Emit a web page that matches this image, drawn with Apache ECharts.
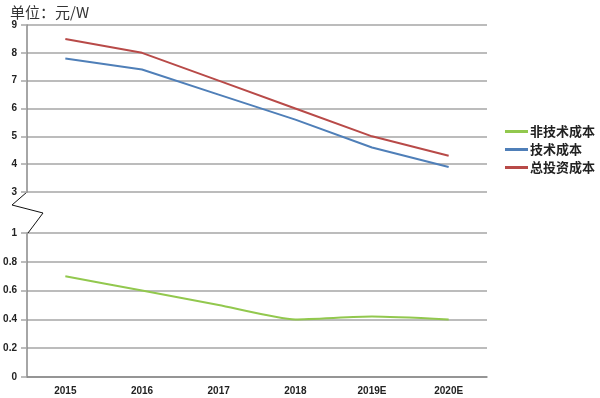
<!DOCTYPE html>
<html>
<head>
<meta charset="utf-8">
<script src="https://cdn.jsdelivr.net/npm/echarts@6/dist/echarts.min.js"></script>
<style>
    html, body { margin: 0; padding: 0; background: #fff; }
    #main { width: 600px; height: 398px; }
</style>
</head>
<body>
<div id="main"></div>
<script>
    var years = ['2015', '2016', '2017', '2018', '2019E', '2020E'];
    var nonTechCost = [0.7, 0.6, 0.5, 0.4, 0.42, 0.4];
    var techCost = [7.8, 7.4, 6.5, 5.6, 4.6, 3.9];
    var totalCost = [8.5, 8.0, 7.0, 6.0, 5.0, 4.3];

    var chart = echarts.init(document.getElementById('main'));

    var labelStyle = {
        color: '#222',
        fontSize: 10,
        fontWeight: 'bold',
        fontFamily: 'Liberation Sans'
    };
    var gridLine = { lineStyle: { color: '#a6a6a6', width: 1.5 } };

    var option = {
        animation: false,
        backgroundColor: '#fff',
        title: {
            text: '单位：元/W',
            left: 5,
            top: 0,
            textStyle: {
                fontSize: 15,
                fontWeight: 'normal',
                color: '#333',
                fontFamily: 'Noto Sans CJK SC'
            }
        },
        legend: {
            orient: 'vertical',
            left: 500,
            top: 120,
            itemWidth: 23,
            itemHeight: 3,
            itemGap: 5,
            icon: 'rect',
            textStyle: {
                fontSize: 13,
                fontWeight: 'bold',
                color: '#222',
                fontFamily: 'Noto Sans CJK SC',
                padding: [0, 0, 0, -3]
            },
            data: ['非技术成本', '技术成本', '总投资成本']
        },
        grid: [
            { left: 27, right: 113, top: 25, height: 167 },
            { left: 27, right: 113, top: 233, height: 144 }
        ],
        xAxis: [
            {
                type: 'category', gridIndex: 0, data: years,
                axisLine: { show: false }, axisTick: { show: false }, axisLabel: { show: false }
            },
            {
                type: 'category', gridIndex: 1, data: years,
                axisLine: { lineStyle: { color: '#888', width: 1.5 } },
                axisTick: { length: 5, lineStyle: { color: '#888' } },
                axisLabel: Object.assign({ margin: 9 }, labelStyle)
            }
        ],
        yAxis: [
            {
                type: 'value', gridIndex: 0, min: 3, max: 9, interval: 1,
                axisLine: { show: true, lineStyle: { color: '#888', width: 1.5 } },
                axisTick: { show: true, length: 6, lineStyle: { color: '#a6a6a6', width: 1.5 } },
                axisLabel: Object.assign({ margin: 10 }, labelStyle),
                splitLine: gridLine
            },
            {
                type: 'value', gridIndex: 1, min: 0, max: 1, interval: 0.2,
                axisLine: { show: true, lineStyle: { color: '#888', width: 1.5 } },
                axisTick: { show: true, length: 6, lineStyle: { color: '#a6a6a6', width: 1.5 } },
                axisLabel: Object.assign({ margin: 10 }, labelStyle),
                splitLine: gridLine
            }
        ],
        series: [
            {
                name: '非技术成本', type: 'line', xAxisIndex: 1, yAxisIndex: 1,
                data: nonTechCost, symbol: 'none', smooth: 0.2,
                itemStyle: { color: '#92c84e' },
                lineStyle: { color: '#92c84e', width: 2 }
            },
            {
                name: '技术成本', type: 'line', xAxisIndex: 0, yAxisIndex: 0,
                data: techCost, symbol: 'none',
                itemStyle: { color: '#4f7fb8' },
                lineStyle: { color: '#4f7fb8', width: 2 }
            },
            {
                name: '总投资成本', type: 'line', xAxisIndex: 0, yAxisIndex: 0,
                data: totalCost, symbol: 'none',
                itemStyle: { color: '#b84a48' },
                lineStyle: { color: '#b84a48', width: 2 }
            }
        ]
    };
    chart.setOption(option);

    // 断轴符号，位置由坐标轴换算
    var yTop = chart.convertToPixel({ yAxisIndex: 0 }, 3);
    var yBottom = chart.convertToPixel({ yAxisIndex: 1 }, 1);
    var x0 = 27;
    chart.setOption({
        graphic: [{
            type: 'polyline',
            shape: {
                points: [
                    [x0, yTop],
                    [x0 - 15, yTop + 13],
                    [x0 + 16, yTop + 21],
                    [x0 + 1, yBottom]
                ]
            },
            style: { stroke: '#111', lineWidth: 1, fill: null }
        }]
    });
    window.addEventListener('resize', chart.resize);
</script>
</body>
</html>
